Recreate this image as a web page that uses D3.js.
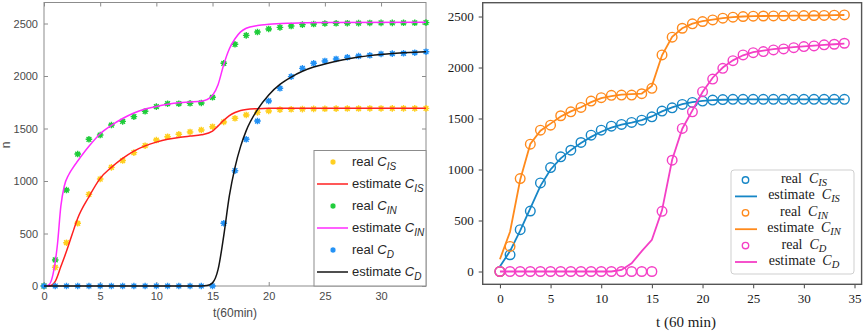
<!DOCTYPE html>
<html>
<head>
<meta charset="utf-8">
<script src="https://cdn.jsdelivr.net/npm/d3@7/dist/d3.min.js"></script>
<style>
  body { margin: 0; background: #fff; }
</style>
</head>
<body>
<div id="chart"></div>
<script>
// Sample times of the measured data (hours, 60 min units)
const tReal = [0,1,2,3,4,5,6,7,8,9,10,11,12,13,14,15,16,17,18,19,20,21,22,23,24,25,26,27,28,29,30,31,32,33,34];

// ---- left panel (measured + smooth model) ----
const leftRealIS = [0,178,412,597,873,1019,1130,1195,1270,1336,1390,1422,1445,1467,1486,1517,1562,1597,1629,1654,1667,1680,1683,1685,1687,1688,1689,1690,1690,1691,1691,1692,1692,1692,1692];
const leftRealIN = [0,248,914,1257,1397,1438,1533,1568,1613,1664,1708,1736,1736,1740,1743,1797,2121,2302,2387,2419,2448,2463,2476,2489,2495,2500,2502,2503,2504,2505,2506,2506,2507,2507,2508];
const leftRealD  = [0,0,0,0,0,0,0,0,0,0,0,0,0,0,0,0,597,1098,1397,1571,1762,1883,1994,2073,2121,2143,2162,2178,2190,2197,2210,2213,2216,2222,2231];

const leftEstIS_t = [0,0.5,1,1.5,2,2.5,3,4,5,6,7,8,9,10,11,12,13,14,15,15.5,16,16.5,17,17.5,18,19,20,25,34];
const leftEstIS   = [0,2,45,185,330,490,645,850,1025,1130,1215,1285,1335,1370,1397,1415,1428,1440,1475,1525,1578,1622,1652,1672,1682,1689,1692,1693,1693];
const leftEstIN_t = [0,0.4,0.8,1.2,1.5,1.8,2.2,2.6,3,4,5,6,7,8,9,10,11,12,13,14,14.5,15,15.5,16,16.5,17,17.5,18,19,20,22,25,34];
const leftEstIN   = [0,8,110,400,760,950,1060,1130,1190,1330,1450,1530,1595,1648,1685,1710,1730,1745,1752,1760,1775,1815,1920,2110,2260,2355,2420,2455,2480,2492,2503,2509,2512];
const leftEstD_t  = [0,14,14.5,15,15.5,16,16.5,17,17.5,18,19,20,21,22,23,24,25,26,27,28,29,30,31,32,33,34];
const leftEstD    = [0,0,4,30,160,480,860,1130,1330,1480,1680,1820,1920,1990,2045,2085,2115,2140,2162,2180,2194,2205,2214,2221,2227,2232];

const leftXTicks = [0,5,10,15,20,25,30];
const leftYTicks = [0,500,1000,1500,2000,2500];

// ---- right panel (measured + piecewise model) ----
const rightRealIS = [0,164,410,593,868,1019,1124,1189,1265,1337,1386,1425,1442,1462,1484,1517,1573,1605,1638,1658,1671,1681,1686,1688,1688,1688,1688,1688,1688,1688,1688,1688,1688,1688,1688];
const rightRealIN = [0,246,911,1248,1386,1435,1527,1566,1609,1671,1704,1727,1730,1730,1743,1796,2123,2297,2385,2428,2451,2467,2484,2494,2500,2503,2505,2506,2507,2508,2509,2510,2511,2513,2516];
const rightRealD  = [0,0,0,0,0,0,0,0,0,0,0,0,0,0,0,0,590,1091,1403,1566,1763,1887,1992,2067,2123,2146,2156,2172,2182,2195,2205,2212,2222,2228,2238];

const rightEstIS = [50,200,400,620,840,1000,1110,1190,1260,1320,1370,1410,1440,1460,1485,1520,1570,1610,1640,1660,1672,1680,1684,1686,1687,1688,1688,1688,1688,1688,1688,1688,1688,1688,1688];
const rightEstIN = [120,390,900,1250,1380,1450,1520,1570,1610,1660,1700,1720,1735,1740,1745,1820,2120,2300,2385,2430,2455,2470,2485,2495,2500,2503,2505,2506,2507,2508,2509,2510,2511,2513,2515];
const rightEstD  = [0,0,0,0,0,0,0,0,0,0,0,0,15,80,200,310,600,1095,1400,1580,1760,1900,2000,2070,2120,2150,2165,2180,2190,2200,2208,2215,2222,2228,2235];

const rightXTicks = [0,5,10,15,20,25,30,35];
const rightYTicks = [0,500,1000,1500,2000,2500];

// series names (subscripts)
const seriesSub = ['IS', 'IN', 'D'];

// ---------------------------------------------------------------
const svg = d3.select('#chart').append('svg')
    .attr('width', 865)
    .attr('height', 332);

const sans = 'Liberation Sans, Arial, Helvetica, sans-serif';
const serif = 'Liberation Serif, Times New Roman, serif';
const plain = d3.format('d');

// ================= LEFT PANEL =================
const xL = d3.scaleLinear().domain([0, 34]).range([44, 426]);
const yL = d3.scaleLinear().domain([0, 2700]).range([286, 2.5]);

const gL = svg.append('g');

function styleLeftAxis(sel) {
    sel.select('.domain').remove();
    sel.selectAll('line').attr('stroke', '#8c8c8c');
    sel.selectAll('text').attr('fill', '#4a4a4a').style('font-family', sans).style('font-size', '11px');
}

gL.append('g').attr('transform', 'translate(0,286)')
    .call(d3.axisBottom(xL).tickValues(leftXTicks).tickFormat(plain).tickSizeInner(-4).tickSizeOuter(0).tickPadding(6))
    .call(styleLeftAxis);
gL.append('g').attr('transform', 'translate(0,2.5)')
    .call(d3.axisTop(xL).tickValues(leftXTicks).tickSizeInner(-4).tickSizeOuter(0).tickFormat(''))
    .call(styleLeftAxis);
gL.append('g').attr('transform', 'translate(44,0)')
    .call(d3.axisLeft(yL).tickValues(leftYTicks).tickFormat(plain).tickSizeInner(-4).tickSizeOuter(0).tickPadding(6))
    .call(styleLeftAxis);
gL.append('g').attr('transform', 'translate(426,0)')
    .call(d3.axisRight(yL).tickValues(leftYTicks).tickSizeInner(-4).tickSizeOuter(0).tickFormat(''))
    .call(styleLeftAxis);

gL.append('rect')
    .attr('x', xL(0)).attr('y', yL(2700))
    .attr('width', xL(34) - xL(0)).attr('height', yL(0) - yL(2700))
    .attr('fill', 'none').attr('stroke', '#8c8c8c').attr('stroke-width', 1);

// axis labels
gL.append('text').attr('x', 235).attr('y', 317)
    .attr('text-anchor', 'middle').attr('fill', '#4a4a4a')
    .style('font-family', sans).style('font-size', '12px')
    .text('t(60min)');
gL.append('text').attr('transform', 'translate(10,145) rotate(-90)')
    .attr('text-anchor', 'middle').attr('fill', '#4a4a4a')
    .style('font-family', sans).style('font-size', '12px')
    .text('n');

const leftColors = {
    realIS: '#ffcf1f', estIS: '#ff2020',
    realIN: '#1fcc3a', estIN: '#ff2bff',
    realD: '#2291f5', estD: '#141414'
};

function starPath(x, y, r) {
    const d = r * 0.72;
    return `M${x - r},${y}L${x + r},${y}M${x},${y - r}L${x},${y + r}` +
        `M${x - d},${y - d}L${x + d},${y + d}M${x - d},${y + d}L${x + d},${y - d}`;
}

function leftMarkers(values, color) {
    const g = gL.append('g');
    g.selectAll('circle').data(values).enter().append('circle')
        .attr('cx', (d, i) => xL(tReal[i]))
        .attr('cy', d => yL(d))
        .attr('r', 2.2)
        .attr('fill', color);
    g.selectAll('path').data(values).enter().append('path')
        .attr('d', (d, i) => starPath(xL(tReal[i]), yL(d), 3.3))
        .attr('stroke', color).attr('stroke-width', 1.4).attr('fill', 'none');
}

function leftLine(ts, values, color) {
    const line = d3.line()
        .x((d, i) => xL(ts[i]))
        .y(d => yL(d))
        .curve(d3.curveMonotoneX);
    gL.append('path').datum(values)
        .attr('d', line)
        .attr('fill', 'none').attr('stroke', color).attr('stroke-width', 1.5);
}

leftMarkers(leftRealIS, leftColors.realIS);
leftLine(leftEstIS_t, leftEstIS, leftColors.estIS);
leftMarkers(leftRealIN, leftColors.realIN);
leftLine(leftEstIN_t, leftEstIN, leftColors.estIN);
leftMarkers(leftRealD, leftColors.realD);
leftLine(leftEstD_t, leftEstD, leftColors.estD);

// left legend
const legL = gL.append('g');
legL.append('rect').attr('x', 314).attr('y', 150.5).attr('width', 112).attr('height', 135.5)
    .attr('fill', '#fff').attr('stroke', '#8c8c8c');
const legLItems = [];
seriesSub.forEach(s => {
    legLItems.push({ kind: 'real', sub: s, color: leftColors['real' + s] });
    legLItems.push({ kind: 'estimate', sub: s, color: leftColors['est' + s] });
});
legLItems.forEach((it, i) => {
    const cy = 162 + i * 22;
    if (it.kind === 'real') {
        legL.append('circle').attr('cx', 333).attr('cy', cy).attr('r', 2).attr('fill', it.color);
        legL.append('path').attr('d', starPath(333, cy, 3)).attr('stroke', it.color).attr('stroke-width', 1.2);
    } else {
        legL.append('line').attr('x1', 317).attr('x2', 348).attr('y1', cy).attr('y2', cy)
            .attr('stroke', it.color).attr('stroke-width', 1.5);
    }
    const t = legL.append('text').attr('x', 352).attr('y', cy + 4)
        .attr('fill', '#262626').style('font-family', sans).style('font-size', '13px');
    t.append('tspan').text(it.kind + ' ');
    t.append('tspan').style('font-style', 'italic').text('C');
    t.append('tspan').attr('dy', 4).style('font-style', 'italic').style('font-size', '10px').text(it.sub);
});

// ================= RIGHT PANEL =================
const xR = d3.scaleLinear().domain([-1.7, 35.7]).range([482.7, 861.6]);
const yR = d3.scaleLinear().domain([-125.5, 2635.5]).range([284.3, 2.7]);

const gR = svg.append('g');

function styleRightAxis(sel) {
    sel.select('.domain').remove();
    sel.selectAll('line').attr('stroke', '#444').attr('stroke-width', 1);
    sel.selectAll('text').attr('fill', '#1a1a1a').style('font-family', serif).style('font-size', '13px');
}

gR.append('g').attr('transform', 'translate(0,284.3)')
    .call(d3.axisBottom(xR).tickValues(rightXTicks).tickFormat(plain).tickSizeInner(4).tickSizeOuter(0).tickPadding(5))
    .call(styleRightAxis);
gR.append('g').attr('transform', 'translate(482.7,0)')
    .call(d3.axisLeft(yR).tickValues(rightYTicks).tickFormat(plain).tickSizeInner(4).tickSizeOuter(0).tickPadding(5))
    .call(styleRightAxis);

gR.append('rect')
    .attr('x', 482.7).attr('y', 2.7).attr('width', 861.6 - 482.7).attr('height', 284.3 - 2.7)
    .attr('fill', 'none').attr('stroke', '#555').attr('stroke-width', 1.4);

gR.append('text').attr('x', 686).attr('y', 327)
    .attr('text-anchor', 'middle').attr('fill', '#1a1a1a')
    .style('font-family', serif).style('font-size', '15px')
    .text('t (60 min)');

const rightColors = { IS: '#1686c6', IN: '#ff8a1c', D: '#f43fc6' };

function rightLine(values, color) {
    const line = d3.line()
        .x((d, i) => xR(tReal[i]))
        .y(d => yR(d));
    gR.append('path').datum(values)
        .attr('d', line)
        .attr('fill', 'none').attr('stroke', color).attr('stroke-width', 1.8);
}
function rightMarkers(values, color) {
    gR.append('g').selectAll('circle').data(values).enter().append('circle')
        .attr('cx', (d, i) => xR(tReal[i]))
        .attr('cy', d => yR(d))
        .attr('r', 4.8)
        .attr('fill', 'none').attr('stroke', color).attr('stroke-width', 1.4);
}

rightMarkers(rightRealIS, rightColors.IS);
rightLine(rightEstIS, rightColors.IS);
rightMarkers(rightRealIN, rightColors.IN);
rightLine(rightEstIN, rightColors.IN);
rightMarkers(rightRealD, rightColors.D);
rightLine(rightEstD, rightColors.D);

// right legend
const legR = gR.append('g');
legR.append('rect').attr('x', 731).attr('y', 170).attr('width', 123).attr('height', 104)
    .attr('rx', 3).attr('fill', '#fff').attr('fill-opacity', 0.85)
    .attr('stroke', '#cfcfcf').attr('stroke-width', 1);
seriesSub.forEach((s, k) => {
    ['real', 'estimate'].forEach((kind, j) => {
        const cy = 180 + (k * 2 + j) * 16.4;
        if (kind === 'real') {
            legR.append('circle').attr('cx', 745.5).attr('cy', cy).attr('r', 3.2)
                .attr('fill', 'none').attr('stroke', rightColors[s]).attr('stroke-width', 1.4);
        } else {
            legR.append('line').attr('x1', 735).attr('x2', 757).attr('y1', cy).attr('y2', cy)
                .attr('stroke', rightColors[s]).attr('stroke-width', 1.8);
        }
        const t = legR.append('text').attr('x', 804).attr('y', cy + 3)
            .attr('text-anchor', 'middle').attr('fill', '#1a1a1a')
            .style('font-family', serif).style('font-size', '14px');
        t.append('tspan').text(kind);
        t.append('tspan').attr('dx', 7).style('font-style', 'italic').text('C');
        t.append('tspan').attr('dy', 3).style('font-style', 'italic').style('font-size', '10.5px').text(s);
    });
});
</script>
</body>
</html>
